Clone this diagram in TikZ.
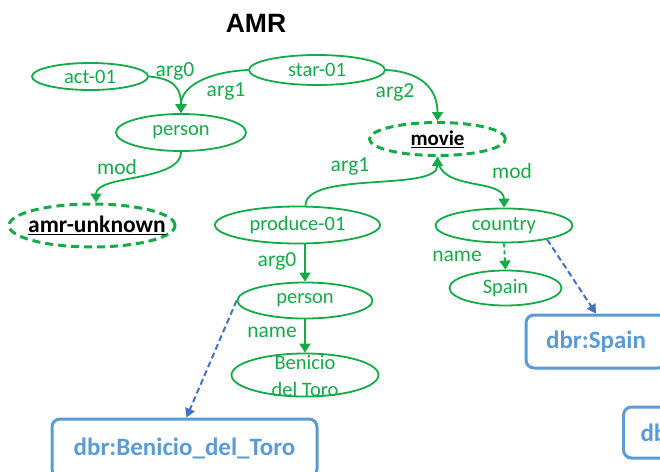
\documentclass[tikz,border=0pt]{standalone}
\usepackage{fontspec}
\setmainfont{Carlito}
\newfontfamily\headfont{Liberation Sans}
\usetikzlibrary{arrows.meta,shapes.geometric}
\definecolor{amrgreen}{RGB}{20,170,72}
\definecolor{linkblue}{RGB}{68,114,196}
\definecolor{boxblue}{RGB}{91,155,213}
% zero-width text so that an ellipse keeps its given size
\newcommand\zw[1]{\makebox[0pt]{#1}}
\tikzset{
  concept/.style={ellipse, draw=amrgreen, line width=1.8pt, inner sep=0pt,
    text=amrgreen, font=\fontsize{20.5}{24}\selectfont},
  focus/.style={concept, line width=3pt, dash pattern=on 8pt off 5pt,
    text=black, font=\fontsize{21}{25}\selectfont\bfseries},
  rel/.style={draw=amrgreen, line width=1.8pt, -{Triangle[width=11pt,length=9pt]}},
  dashrel/.style={rel, dash pattern=on 4pt off 3pt},
  rellbl/.style={text=amrgreen, font=\fontsize{21.5}{25}\selectfont, inner sep=0pt},
  link/.style={draw=linkblue, line width=2pt, dash pattern=on 6pt off 3.5pt,
    -{Triangle[width=10pt,length=9pt]}},
  kbnode/.style={draw=boxblue, rounded corners=8pt, line width=3pt, text=boxblue,
    font=\fontsize{25}{30}\selectfont\bfseries, inner sep=0pt}
}
\begin{document}
\begin{tikzpicture}[x=1pt,y=-1pt]
\useasboundingbox (0,0) rectangle (660,471);
\clip (0,0) rectangle (660,471);

% title
\node[font=\headfont\fontsize{26.5}{30}\selectfont\bfseries] (title) at (256,23) {AMR};

% AMR concepts
\node[concept, minimum width=116pt, minimum height=27pt] (act) at (90,76.5) {\zw{act-01}};
\node[concept, minimum width=136pt, minimum height=30pt] (star) at (317,70) {\zw{star-01}};
\node[concept, minimum width=130pt, minimum height=37pt] (p1) at (181,132.5) {\zw{person}};
\node[focus, minimum width=166pt, minimum height=43pt, font=\fontsize{23.5}{27}\selectfont\bfseries]
  (amr) at (92,225.5) {\zw{\hspace{10pt}\underline{amr-unknown}}};
\node[focus, minimum width=136pt, minimum height=33pt] (movie) at (437.5,139) {\zw{\underline{movie}}};
\node[concept, minimum width=165pt, minimum height=37pt] (prod) at (297.5,225) {\zw{produce-01}};
\node[concept, minimum width=137pt, minimum height=34pt] (country) at (504,225.5) {\zw{country}};
\node[concept, minimum width=112pt, minimum height=35pt] (spain) at (505.5,288) {\zw{Spain}};
\node[concept, minimum width=135pt, minimum height=36pt] (p2) at (305,300.5) {\zw{person}};
\node[concept, minimum width=147pt, minimum height=43pt] (ben) at (305,375) {};
\node[text=amrgreen, font=\fontsize{20.5}{27}\selectfont, align=center, inner sep=0pt]
  (bentext) at (305,376.5) {Benicio\\del Toro};

% DBpedia resources
\node[kbnode, minimum width=265pt, minimum height=58pt] (kbben) at (184.5,448) {dbr:Benicio\_del\_Toro};
\node[kbnode, minimum width=140pt, minimum height=53pt] (kbspain) at (596,341.5) {dbr:Spain};
\node[kbnode, anchor=west, inner xsep=17pt, minimum height=51pt]
  (kbmore) at (622,432.5) {db\hspace*{40pt}};

% relations
\draw[rel] (act.east) .. controls +(26,2) and +(0,-24) .. (p1.north);
\draw[rel] (star.west) .. controls +(-42,2) and +(0,-26) .. (p1.north);
\draw[rel] (star.east) .. controls +(38,2) and +(0,-30) .. (movie.north);
\draw[rel] (p1.south) .. controls +(0,30) and +(0,-28) .. ([xshift=4pt]amr.north);
\draw[rel] ([xshift=8pt]prod.north) .. controls +(0,-35) and +(0,35) .. (movie.south);
\draw[rel] (movie.south) .. controls +(0,35) and +(0,-30) .. (country.north);
\draw[rel] (prod.south -| p2.north) -- (p2.north);
\draw[rel] (p2.south) -- (ben.north);
\draw[dashrel] (country.south) -- (spain.north);

% links to DBpedia
\draw[link] (p2.west) -- ([xshift=2pt]kbben.north);
\draw[link] (country.-18) -- (kbspain.north);

% relation labels
\node[rellbl] (la) at (175,71) {arg0};
\node[rellbl] (lb) at (226,91) {arg1};
\node[rellbl] (lc) at (395,92) {arg2};
\node[rellbl] (ld) at (117,167) {mod};
\node[rellbl] (le) at (350,166) {arg1};
\node[rellbl] (lf) at (512,171) {mod};
\node[rellbl] (lg) at (277,261) {arg0};
\node[rellbl] (lh) at (272,332) {name};
\node[rellbl] (li) at (457,256) {name};
\end{tikzpicture}
\end{document}
